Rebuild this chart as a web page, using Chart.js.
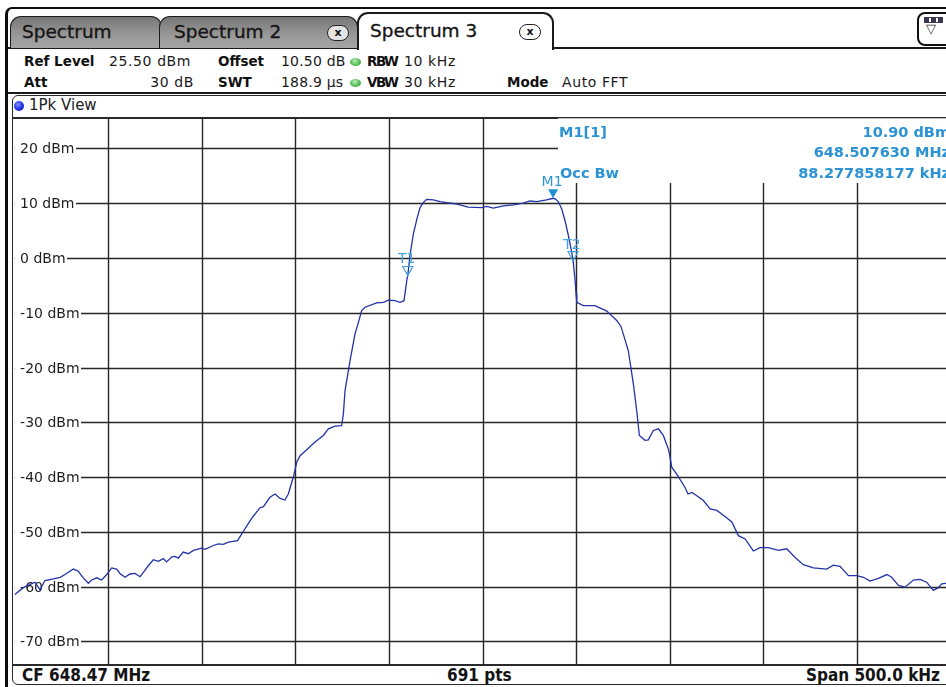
<!DOCTYPE html>
<html>
<head>
<meta charset="utf-8">
<script src="https://cdn.jsdelivr.net/npm/chart.js@4.4.1/dist/chart.umd.min.js"></script>
<style>
  html, body { margin: 0; padding: 0; background: #fff; width: 946px; height: 687px; overflow: hidden; }
  body { font-family: "DejaVu Sans", sans-serif; color: #111; }
  #wrap { position: relative; width: 946px; height: 687px; overflow: hidden; }
  .a { position: absolute; white-space: nowrap; }
  .ln { position: absolute; background: #1a1a1a; }
  .tab { position: absolute; box-sizing: border-box; border: 1.5px solid #1a1a1a; border-bottom: none;
         border-radius: 11px 11px 0 0; }
  .tab.off { background: linear-gradient(#777, #999 60%, #a5a5a5); }
  .tab.on { background: #fff; border-width: 2px; }
  .tabtxt { position: absolute; font-size: 18.5px; top: 21px; color: #151515; -webkit-text-stroke: 0.35px #151515; }
  .xbtn { position: absolute; box-sizing: border-box; width: 22px; height: 16px; border: 1.5px solid #222;
          border-radius: 8px; font: bold 11px "DejaVu Sans", sans-serif; text-align: center; line-height: 13px; }
  .row { font-size: 14px; line-height: 16px; letter-spacing: 0.6px; color: #1a1a1a; }
  .b { font-weight: bold; font-size: 13.5px; letter-spacing: 0; color: #111; }
  .nar { letter-spacing: -1.5px; }
  .led { position: absolute; width: 11px; height: 8px; border-radius: 50%;
         background: radial-gradient(circle at 45% 35%, #b9f0b9, #4fb84f 60%, #2f8f2f); }
  .foot { font-family: "DejaVu Sans Condensed", "DejaVu Sans", sans-serif; font-stretch: condensed;
          font-weight: bold; font-size: 17px; top: 665px; color: #141414; }
  .mk { position: absolute; z-index: 3; white-space: nowrap; color: #2b93d4;
        font: bold 14.5px "DejaVu Sans", sans-serif; }
  canvas { position: absolute; left: 0; top: 0; z-index: 2; }
</style>
</head>
<body>
<div id="wrap">
  <!-- outer frame -->
  <div class="a" style="left:5px;top:7px;width:960px;height:700px;border-top:2.5px solid #0d0d0d;border-left:3px solid #0d0d0d;border-top-left-radius:7px;"></div>

  <!-- tab strip -->
  <div class="ln" style="left:8px;top:47px;width:938px;height:2px;"></div>
  <div class="tab off" style="left:10px;top:16px;width:152px;height:32px;"></div>
  <div class="tab off" style="left:159px;top:16px;width:199px;height:32px;"></div>
  <div class="tab on" style="left:357px;top:12px;width:197px;height:38px;z-index:1;"></div>
  <div class="tabtxt" style="left:22px;">Spectrum</div>
  <div class="tabtxt" style="left:174px;">Spectrum 2</div>
  <div class="tabtxt" style="left:370px;top:20px;z-index:1;">Spectrum 3</div>
  <div class="xbtn" style="left:327px;top:25px;background:#e4e4e4;">x</div>
  <div class="xbtn" style="left:519px;top:24px;background:#fff;z-index:1;">x</div>
  <div class="a" style="left:917px;top:12px;width:40px;height:34px;box-sizing:border-box;border:2px solid #111;border-radius:8px;background:#fff;"></div>
  <div class="a" style="left:924px;top:17px;width:19px;height:6px;background:#3b3550;"></div>
  <div class="a" style="left:929px;top:18px;width:2px;height:4px;background:#fff;"></div>
  <div class="a" style="left:936px;top:18px;width:2px;height:4px;background:#fff;"></div>
  <div class="a" style="left:926px;top:21px;font-size:13px;color:#333;">▽</div>

  <!-- setting rows -->
  <div class="a row b" style="left:24px;top:53px;">Ref Level</div>
  <div class="a row" style="left:109px;top:53px;">25.50 dBm</div>
  <div class="a row b" style="left:218px;top:53px;">Offset</div>
  <div class="a row" style="left:281px;top:53px;letter-spacing:0.2px;">10.50 dB</div>
  <div class="led" style="left:350px;top:58px;"></div>
  <div class="a row b nar" style="left:367px;top:53px;">RBW</div>
  <div class="a row" style="left:404px;top:53px;">10 kHz</div>

  <div class="a row b" style="left:24px;top:74px;">Att</div>
  <div class="a row" style="right:752px;top:74px;">30 dB</div>
  <div class="a row b" style="left:218px;top:74px;">SWT</div>
  <div class="a row" style="left:281px;top:74px;letter-spacing:0.2px;">188.9 µs</div>
  <div class="led" style="left:350px;top:79px;"></div>
  <div class="a row b nar" style="left:367px;top:74px;">VBW</div>
  <div class="a row" style="left:404px;top:74px;">30 kHz</div>
  <div class="a row b" style="left:507px;top:74px;">Mode</div>
  <div class="a row" style="left:562px;top:74px;">Auto FFT</div>
  <div class="ln" style="left:8px;top:92px;width:938px;height:1.5px;"></div>

  <!-- window frame -->
  <div class="a" style="left:12px;top:95px;width:960px;height:590px;box-sizing:border-box;border:1.5px solid #2a2a2a;border-radius:6px 0 0 6px;"></div>
  <div class="a" style="left:14px;top:101px;width:10px;height:10px;border-radius:50%;background:radial-gradient(circle at 40% 35%, #7f8cff, #1a2fe0 55%, #0a1590);"></div>
  <div class="a" style="left:29px;top:96px;font-size:15px;color:#222;">1Pk View</div>
  <div class="ln" style="left:12px;top:117px;width:934px;height:1.5px;background:#2a2a2a;"></div>
  <div class="ln" style="left:12px;top:664px;width:934px;height:1.5px;background:#2a2a2a;"></div>

  <!-- status line -->
  <div class="a foot" style="left:22px;">CF 648.47 MHz</div>
  <div class="a foot" style="left:447px;">691 pts</div>
  <div class="a foot" style="right:6px;">Span 500.0 kHz</div>

  <!-- marker readout -->
  <div class="mk" id="mName" style="left:559px;top:124px;"></div>
  <div class="mk" id="mLevel" style="right:-4px;top:124px;"></div>
  <div class="mk" id="mFreq" style="right:-4px;top:144px;"></div>
  <div class="mk" style="left:560px;top:165px;">Occ Bw</div>
  <div class="mk" id="mObw" style="right:-4px;top:165px;"></div>

  <canvas id="c" width="946" height="687"></canvas>
</div>

<script>
// Analyzer settings
const centerMHz = 648.47;
const spanKHz = 500;

// Trace 1 (peak detector), frequency as offset from centre in kHz, level in dBm
const freqKHz = [
  -250, -245.4, -239.1, -236.4, -233.8, -229.3, -225.7, -223.1, -218.6, -216.0,
  -213.3, -210.6, -208.8, -206.1, -203.5, -200.8, -198.1, -195.5, -193.7, -191.0,
  -188.4, -185.7, -183.0, -181.2, -178.6, -175.9, -173.2, -170.6, -168.8, -166.1,
  -164.3, -162.6, -159.9, -157.2, -154.5, -150.1, -148.3, -143.9, -141.2, -138.5,
  -135.8, -130.9, -127.8, -125.2, -122.6, -118.9, -117.1, -113.6, -110.9, -108.2,
  -105.6, -103.8, -101.1, -99.3, -97.5, -94.0, -89.5, -85.1, -82.4, -78.8,
  -75.3, -74.4, -73.5, -72.3, -70.8, -68.2, -66.4, -64.6, -62.8, -56.6,
  -53.0, -50.4, -46.8, -44.1, -42.0, -40.5, -40.0, -38.7, -37.0, -34.9,
  -33.4, -31.7, -29.9, -26.3, -22.8, -19.2, -14.7, -11.2, -7.8, -0.5,
  2.2, 5.7, 11.1, 16.4, 21.7, 25.3, 28.9, 34.2, 37.63, 38.7,
  40.4, 42.3, 44.0, 45.8, 47.6, 48.28, 48.5, 49.4, 49.9, 50.3,
  53.8, 60.0, 66.3, 71.6, 73.9, 77.8, 80.5, 82.3, 83.7, 86.7,
  88.5, 91.2, 93.9, 96.5, 99.2, 99.8, 101.0, 104.1, 108.1, 109.7,
  111.8, 114.4, 117.9, 121.5, 125.1, 129.5, 133.1, 136.6, 140.2, 144.6,
  148.2, 152.6, 158.0, 162.4, 166.9, 171.3, 176.7, 183.8, 187.3, 190.9,
  195.4, 199.8, 203.4, 206.9, 211.4, 215.9, 218.5, 222.1, 225.6, 230.1,
  233.6, 237.2, 240.7, 243.4, 245.2, 247.5, 250
];
const levelDbm = [
  -61.5, -60.2, -59.2, -60.6, -58.9, -58.6, -58.3, -57.8, -56.8, -57.2,
  -58.4, -59.4, -58.8, -58.4, -58.8, -57.8, -56.6, -56.8, -57.6, -58.3,
  -57.7, -57.6, -58.2, -57.4, -56.2, -55.1, -55.4, -54.9, -55.5, -54.6,
  -54.5, -54.8, -53.7, -54.0, -53.4, -53.0, -53.2, -52.5, -52.2, -52.3,
  -51.9, -51.6, -49.9, -48.5, -47.2, -45.6, -45.4, -43.7, -43.1, -43.9,
  -44.2, -43.1, -40.0, -37.3, -36.1, -35.0, -33.6, -32.4, -31.2, -30.7,
  -30.6, -28.5, -24.2, -21.8, -18.7, -13.9, -11.8, -9.6, -9.0, -8.2,
  -8.1, -7.7, -7.8, -8.1, -7.8, -4.1, -3.2, 0.7, 4.4, 7.4,
  9.2, 10.1, 10.7, 10.6, 10.3, 10.1, 9.9, 9.6, 9.3, 9.2,
  9.4, 9.1, 9.5, 9.7, 10.0, 10.4, 10.3, 10.6, 10.9, 10.8,
  10.3, 8.9, 6.8, 4.1, 1.0, -0.5, -1.1, -4.1, -6.6, -8.1,
  -8.7, -8.7, -9.7, -11.4, -12.5, -16.9, -23.0, -27.9, -32.4, -33.3,
  -33.2, -31.5, -31.2, -32.4, -34.9, -35.8, -38.2, -39.7, -41.9, -43.1,
  -42.8, -43.4, -44.3, -45.8, -46.1, -47.2, -48.2, -50.7, -51.3, -53.5,
  -52.9, -52.9, -53.4, -53.1, -54.7, -56.0, -56.6, -56.8, -56.1, -56.3,
  -58.0, -58.0, -58.3, -59.0, -58.5, -57.8, -58.3, -59.8, -60.1, -58.8,
  -58.7, -59.2, -60.7, -60.2, -59.5, -59.4, -59.6
];

// Markers: M1 peak, T1/T2 occupied-bandwidth limits
const markerNames = ['M1', 'T1', 'T2'];
const markerFreqKHz = [37.63, -40.0, 48.278];
const markerLevelDbm = [10.90, -3.2, -0.5];

// Grid / tick values
const yTicks = [20, 10, 0, -10, -20, -30, -40, -50, -60, -70];
const xGridKHz = [-200, -150, -100, -50, 0, 50, 100, 150, 200];
const refLevelDbm = 25.5;
const rangeDb = 100;

// Readout text
document.getElementById('mName').textContent = 'M1[1]';
document.getElementById('mLevel').textContent = markerLevelDbm[0].toFixed(2) + ' dBm';
document.getElementById('mFreq').textContent = (centerMHz + markerFreqKHz[0] / 1000).toFixed(6) + ' MHz';
document.getElementById('mObw').textContent = '88.277858177 kHz';

const GRID = '#262626';
const TRACE = '#2233a8';
const MARK = '#2391d6';
const READOUT_LEFT = 558, READOUT_BOTTOM = 183;

const gridPlugin = {
  id: 'analyzerGrid',
  beforeDatasetsDraw(chart) {
    const { ctx, chartArea: a, scales: { x, y } } = chart;
    ctx.save();
    ctx.strokeStyle = GRID;
    ctx.lineWidth = 1.4;
    ctx.beginPath();
    yTicks.forEach(v => {
      const py = Math.round(y.getPixelForValue(v)) + 0.5;
      ctx.moveTo(a.left, py); ctx.lineTo(a.right, py);
    });
    xGridKHz.forEach(v => {
      const px = Math.round(x.getPixelForValue(v)) + 0.5;
      ctx.moveTo(px, a.top); ctx.lineTo(px, a.bottom);
    });
    ctx.stroke();

    // readout panel in the upper right of the diagram
    ctx.fillStyle = '#fff';
    ctx.fillRect(READOUT_LEFT, a.top, a.right - READOUT_LEFT, READOUT_BOTTOM - a.top);

    // level labels sitting on the left end of each grid line
    ctx.font = '14px "DejaVu Sans", sans-serif';
    ctx.textBaseline = 'middle';
    yTicks.forEach(v => {
      const py = Math.round(y.getPixelForValue(v)) + 0.5;
      const txt = v + ' dBm';
      const w = ctx.measureText(txt).width;
      ctx.fillStyle = '#fff';
      ctx.fillRect(a.left, py - 8, 6 + w + 1, 16);
      ctx.fillStyle = '#1e1e1e';
      ctx.fillText(txt, a.left + 5.5, py + 0.5);
    });
    ctx.restore();
  },
  afterDatasetsDraw(chart) {
    const { ctx, scales: { x, y } } = chart;
    ctx.save();
    markerNames.forEach((name, i) => {
      const px = x.getPixelForValue(markerFreqKHz[i]);
      const py = y.getPixelForValue(markerLevelDbm[i]);
      const hw = 5, h = 9;
      ctx.beginPath();
      ctx.moveTo(px, py);
      ctx.lineTo(px - hw, py - h);
      ctx.lineTo(px + hw, py - h);
      ctx.closePath();
      if (name === 'M1') {
        ctx.fillStyle = MARK; ctx.fill();
      } else {
        ctx.strokeStyle = '#3ea2dc'; ctx.lineWidth = 1.2; ctx.stroke();
      }
      ctx.font = '14px "DejaVu Sans", sans-serif';
      ctx.fillStyle = name === 'M1' ? '#2f95d2' : '#45a6dc';
      ctx.textAlign = 'center';
      ctx.textBaseline = 'alphabetic';
      ctx.fillText(name, px - 1, py - h - 3);
    });
    ctx.restore();
  }
};

new Chart(document.getElementById('c'), {
  type: 'scatter',
  data: {
    datasets: [{
      data: freqKHz.map((f, i) => ({ x: f, y: levelDbm[i] })),
      showLine: true,
      borderColor: TRACE,
      borderWidth: 1.3,
      pointRadius: 0,
      tension: 0,
      clip: 0
    }]
  },
  options: {
    responsive: false,
    animation: false,
    events: [],
    layout: { padding: { left: 14.6, top: 118.3, right: 0, bottom: 21 } },
    plugins: { legend: { display: false }, tooltip: { enabled: false }, title: { display: false } },
    scales: {
      x: { type: 'linear', display: false, min: -spanKHz / 2, max: 247.5 },
      y: { type: 'linear', display: false, min: refLevelDbm - rangeDb, max: refLevelDbm }
    }
  },
  plugins: [gridPlugin]
});
</script>
</body>
</html>
